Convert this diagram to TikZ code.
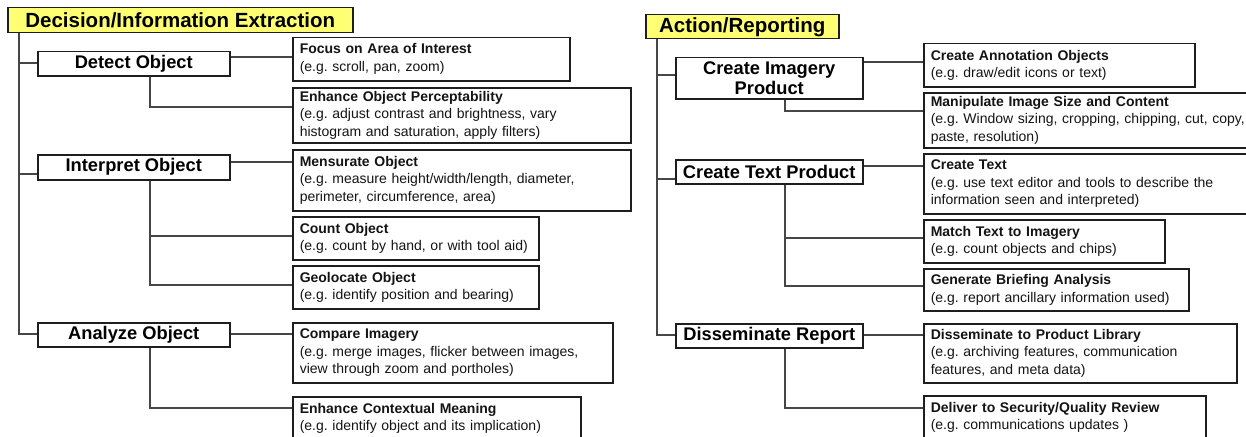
\documentclass[tikz,border=0pt]{standalone}
\usepackage{fontspec}
\setmainfont{Liberation Sans}
\frenchspacing
\definecolor{boxedge}{RGB}{30,30,30}
\definecolor{linegray}{RGB}{70,70,70}
\definecolor{headyellow}{RGB}{255,255,115}
\definecolor{textdark}{RGB}{20,20,20}
\tikzset{
  conn/.style={draw=linegray, line width=1.7pt},
  headbox/.style={draw=boxedge, line width=1.5pt, fill=headyellow, anchor=north west,
    inner sep=0pt, font=\fontsize{20.5}{24}\selectfont\bfseries, text=black},
  stagebox/.style={draw=boxedge, line width=1.5pt, fill=white, anchor=north west,
    inner sep=0pt, align=center, font=\fontsize{18.3}{20}\selectfont\bfseries, text=black},
  taskbox/.style={draw=boxedge, line width=1.5pt, fill=white, anchor=north west,
    inner xsep=7pt, inner ysep=0pt, align=left, font=\fontsize{14}{17.5}\selectfont, text=textdark},
}
% #1 name, #2 x, #3 y, #4 text width, #5 height, #6 heading, #7 description lines
\newcommand\taskentry[7]{%
  \node[taskbox, text width=#4pt, minimum height=#5pt] (#1) at (#2,#3)
    {\begin{tabular}{@{}l@{}}\textbf{#6}\\#7\end{tabular}};}
\begin{document}
\begin{tikzpicture}[x=1pt, y=-1pt]
\useasboundingbox (0,0) rectangle (1246,436);
\clip (0,0) rectangle (1246,436);

% ---------------- Decision/Information Extraction ----------------
\node[headbox, minimum width=345pt, minimum height=25pt] (dtitle) at (7,7) {Decision/Information Extraction};

\node[stagebox, minimum width=192pt, minimum height=24pt] (detect) at (37,51) {Detect Object};
\node[stagebox, minimum width=192pt, minimum height=25pt] (interpret) at (37,154) {Interpret Object};
\node[stagebox, minimum width=192pt, minimum height=24pt] (analyze) at (37,322) {Analyze Object};

\taskentry{focus}{292}{37}{263}{43}{Focus on Area of Interest}{(e.g. scroll, pan, zoom)}
\taskentry{enhobj}{292}{87}{324}{55}{Enhance Object Perceptability}{(e.g. adjust contrast and brightness, vary\\histogram and saturation, apply filters)}
\taskentry{mensurate}{292}{149}{324}{61}{Mensurate Object}{(e.g. measure height/width/length, diameter,\\perimeter, circumference, area)}
\taskentry{count}{292}{216}{232}{43}{Count Object}{(e.g. count by hand, or with tool aid)}
\taskentry{geo}{292}{265}{232}{43}{Geolocate Object}{(e.g. identify position and bearing)}
\taskentry{compare}{292}{322}{306}{60}{Compare Imagery}{(e.g. merge images, flicker between images,\\view through zoom and portholes)}
\taskentry{enhctx}{292}{396}{274}{43}{Enhance Contextual Meaning}{(e.g. identify object and its implication)}

% ---------------- Action/Reporting ----------------
\node[headbox, minimum width=193pt, minimum height=24pt] (atitle) at (645,14) {Action/Reporting};

\node[stagebox, minimum width=187pt, minimum height=41pt] (cimg) at (675,57) {Create Imagery\\Product};
\node[stagebox, minimum width=187pt, minimum height=24pt] (ctp) at (675,159) {Create Text Product};
\node[stagebox, minimum width=187pt, minimum height=24pt] (drep) at (675,323) {Disseminate Report};

\taskentry{annot}{923}{43}{257}{43}{Create Annotation Objects}{(e.g. draw/edit icons or text)}
\taskentry{manip}{923}{92}{326}{55}{Manipulate Image Size and Content}{(e.g. Window sizing, cropping, chipping, cut, copy,\\paste, resolution)}
\taskentry{ctext}{923}{153}{326}{60}{Create Text}{(e.g. use text editor and tools to describe the\\information seen and interpreted)}
\taskentry{match}{923}{219}{227}{43}{Match Text to Imagery}{(e.g. count objects and chips)}
\taskentry{gen}{923}{268}{251}{42}{Generate Briefing Analysis}{(e.g. report ancillary information used)}
\taskentry{dlib}{923}{323}{299}{59}{Disseminate to Product Library}{(e.g. archiving features, communication\\features, and meta data)}
\taskentry{deliver}{923}{395}{268}{43}{Deliver to Security/Quality Review}{(e.g. communications updates )}

% ---------------- left tree ----------------
\coordinate (ltr) at ([xshift=12pt]dtitle.south west);
\coordinate (lb1) at ([yshift=1pt]detect.west);
\coordinate (lb2) at ([yshift=-6.5pt]interpret.west);
\coordinate (lb3) at ([yshift=1pt]analyze.west);
\draw[conn] (ltr) |- (lb3);
\draw[conn] (lb1) -- (lb1 -| ltr);
\draw[conn] (lb2) -- (lb2 -| ltr);

\coordinate (le1) at ([yshift=7pt]detect.east);
\coordinate (le2) at ([yshift=5.5pt]interpret.east);
\coordinate (le3) at ([yshift=1pt]analyze.east);
\draw[conn] (le1) -- (le1 -| focus.west);
\draw[conn] (le2) -- (le2 -| mensurate.west);
\draw[conn] (le3) -- (le3 -| compare.west);

\draw[conn] ([xshift=16pt]detect.south) |- ([yshift=8.5pt]enhobj.west);
\draw[conn] ([xshift=16pt]interpret.south) |- ([yshift=2.5pt]geo.west);
\coordinate (lm) at ([yshift=2.5pt]count.west);
\coordinate (ls) at ([xshift=16pt]interpret.south);
\draw[conn] (lm) -- (lm -| ls);
\draw[conn] ([xshift=16pt]analyze.south) |- ([yshift=10.5pt]enhctx.west);

% ---------------- right tree ----------------
\coordinate (rtr) at ([xshift=12pt]atitle.south west);
\coordinate (rb1) at ([yshift=3.5pt]cimg.west);
\coordinate (rb2) at ([yshift=-7pt]ctp.west);
\coordinate (rb3) at ([yshift=1pt]drep.west);
\draw[conn] (rtr) |- (rb3);
\draw[conn] (rb1) -- (rb1 -| rtr);
\draw[conn] (rb2) -- (rb2 -| rtr);

\coordinate (re1) at ([yshift=16.5pt]cimg.east);
\coordinate (re2) at ([yshift=6pt]ctp.east);
\coordinate (re3) at ([yshift=1pt]drep.east);
\draw[conn] (re1) -- (re1 -| annot.west);
\draw[conn] (re2) -- (re2 -| ctext.west);
\draw[conn] (re3) -- (re3 -| dlib.west);

\draw[conn] ([xshift=15.5pt]cimg.south) |- ([yshift=9.5pt]manip.west);
\draw[conn] ([xshift=15.5pt]ctp.south) |- ([yshift=4pt]gen.west);
\coordinate (rm) at ([yshift=3.5pt]match.west);
\coordinate (rs) at ([xshift=15.5pt]ctp.south);
\draw[conn] (rm) -- (rm -| rs);
\draw[conn] ([xshift=15.5pt]drep.south) |- ([yshift=9.5pt]deliver.west);
\end{tikzpicture}
\end{document}
